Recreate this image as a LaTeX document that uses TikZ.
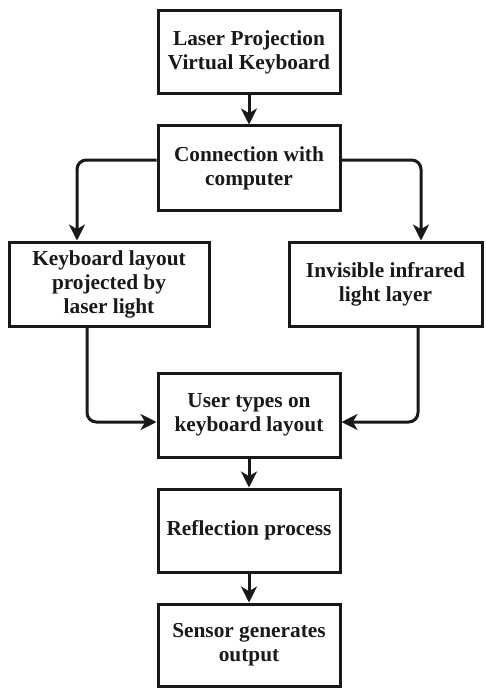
\documentclass[tikz,border=0pt]{standalone}
\usepackage{fontspec}
\setmainfont{Liberation Serif}
\usetikzlibrary{arrows.meta,calc}
\begin{document}
\begin{tikzpicture}[x=0.75pt,y=-0.75pt,
  box/.style={draw=black!90, line width=2.25pt, rectangle, align=center,
    inner sep=0pt, font=\bfseries\fontsize{16}{18}\selectfont, text=black!90},
  arr/.style={draw=black!90, line width=2.25pt, rounded corners=7pt,
    -{Stealth[length=12pt,width=12pt,inset=3.5pt]}}]
\useasboundingbox (0,0) rectangle (485,688);
\node[box, minimum width=182*0.75pt, minimum height=83*0.75pt] (b1) at (249,52.5) {Laser Projection\\Virtual Keyboard};
\node[box, minimum width=182*0.75pt, minimum height=84*0.75pt] (b2) at (249,168) {Connection with\\computer};
\node[box, minimum width=200*0.75pt, minimum height=84*0.75pt] (b3) at (109,284) {Keyboard layout\\projected by\\laser light};
\node[box, minimum width=193*0.75pt, minimum height=84*0.75pt] (b4) at (385.5,284) {Invisible infrared\\light layer};
\node[box, minimum width=182*0.75pt, minimum height=84*0.75pt] (b5) at (249,415) {User types on\\keyboard layout};
\node[box, minimum width=182*0.75pt, minimum height=83*0.75pt] (b6) at (249,530.5) {Reflection process};
\node[box, minimum width=182*0.75pt, minimum height=82*0.75pt] (b7) at (249,645) {Sensor generates\\output};
\draw[arr] (b1) -- (b2);
\draw[arr] ($(b2.west)+(0,-8)$) -| ($(b3.north)+(-32,0)$);
\draw[arr] ($(b2.east)+(0,-8)$) -| ($(b4.north)+(35.5,0)$);
\draw[arr] ($(b3.south)+(-22,0)$) |- ($(b5.west)+(0,7)$);
\draw[arr] ($(b4.south)+(32.5,0)$) |- ($(b5.east)+(0,7)$);
\draw[arr] (b5) -- (b6);
\draw[arr] (b6) -- (b7);
\end{tikzpicture}
\end{document}
